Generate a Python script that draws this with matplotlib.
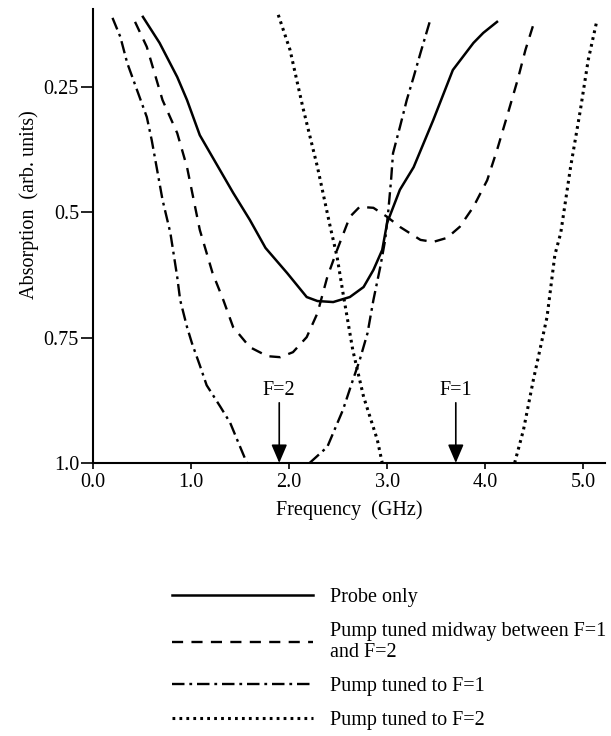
import numpy as np
import matplotlib
matplotlib.use('Agg')
import matplotlib.pyplot as plt

plt.rcParams['font.family'] = ['Liberation Serif', 'DejaVu Serif']
plt.rcParams['lines.scale_dashes'] = False

# Data (frequency in GHz, absorption in arb. units, axis inverted)
probe_x = [0.51, 0.68, 0.86, 0.96, 1.09, 1.22, 1.43, 1.60, 1.76, 1.98, 2.18, 2.29, 2.45, 2.62, 2.76,
           2.86, 2.95, 3.00, 3.13, 3.27, 3.47, 3.67, 3.88, 3.98, 4.12]
probe_y = [0.110, 0.162, 0.230, 0.276, 0.346, 0.390, 0.461, 0.515, 0.571, 0.621, 0.669, 0.677, 0.679,
           0.669, 0.649, 0.615, 0.575, 0.521, 0.455, 0.410, 0.316, 0.216, 0.162, 0.142, 0.120]

mid_x = [0.43, 0.55, 0.71, 0.86, 0.96, 1.09, 1.22, 1.33, 1.43, 1.60, 1.78, 1.91, 2.04, 2.18, 2.29, 2.39,
         2.49, 2.62, 2.72, 2.86, 3.00, 3.13, 3.34, 3.47, 3.61, 3.74, 3.88, 4.02, 4.12, 4.22, 4.33, 4.41, 4.49]
mid_y = [0.120, 0.170, 0.276, 0.342, 0.410, 0.535, 0.621, 0.675, 0.729, 0.769, 0.787, 0.789, 0.779, 0.749,
         0.701, 0.629, 0.575, 0.509, 0.489, 0.491, 0.509, 0.529, 0.555, 0.559, 0.551, 0.529, 0.489, 0.436,
         0.376, 0.310, 0.236, 0.176, 0.126]

f1_x = [0.20, 0.28, 0.35, 0.45, 0.55, 0.60, 0.65, 0.71, 0.79, 0.86, 0.89, 0.96, 1.01, 1.09, 1.16, 1.30,
        1.40, 1.48, 1.57, np.nan,
        2.21, 2.39, 2.55, 2.65, 2.72, 2.80, 2.86, 2.93, 2.98, 3.01, 3.04, 3.06, 3.13, 3.20, 3.27, 3.34, 3.44]
f1_y = [0.112, 0.150, 0.202, 0.256, 0.310, 0.356, 0.410, 0.475, 0.541, 0.629, 0.675, 0.729, 0.761, 0.805,
        0.845, 0.888, 0.920, 0.958, 1.0, np.nan,
        1.0, 0.968, 0.894, 0.835, 0.795, 0.741, 0.675, 0.609, 0.555, 0.501, 0.436, 0.382, 0.330, 0.276,
        0.230, 0.182, 0.116]

f2_x = [1.89, 2.01, 2.14, 2.29, 2.42, 2.49, 2.55, 2.65, 2.76, 2.90, 2.95, np.nan,
        4.30, 4.39, 4.49, 4.63, 4.71, 4.77, 4.87, 4.97, 5.05, 5.14]
f2_y = [0.106, 0.176, 0.290, 0.410, 0.529, 0.589, 0.661, 0.775, 0.868, 0.954, 1.0, np.nan,
        1.0, 0.934, 0.835, 0.709, 0.585, 0.541, 0.410, 0.296, 0.196, 0.116]

labels = ['Probe only', 'Pump tuned midway between F=1\nand F=2', 'Pump tuned to F=1', 'Pump tuned to F=2']
x_ticks = [0.0, 1.0, 2.0, 3.0, 4.0, 5.0]
y_ticks = [0.25, 0.5, 0.75, 1.0]
y_ticklabels = ['0.25', '0.5', '0.75', '1.0']
markers = {'F=2': 1.90, 'F=1': 3.70}

fs = 14.5

fig = plt.figure(figsize=(6.11, 7.36), dpi=100)
ax = fig.add_axes([0.152, 0.371, 0.838, 0.617])

ax.plot(probe_x, probe_y, color='black', lw=1.8, label=labels[0])
ax.plot(mid_x, mid_y, color='black', lw=1.7, dashes=(8, 6), label=labels[1])
ax.plot(f1_x, f1_y, color='black', lw=1.7, dashes=(9, 3.5, 2, 3.5), label=labels[2])
ax.plot(f2_x, f2_y, color='black', lw=2.2, dashes=(2, 3), label=labels[3])

# arrows marking the hyperfine levels
for name, xpos in markers.items():
    ax.annotate('', xy=(xpos, 1.0), xytext=(xpos, 0.88),
                arrowprops=dict(arrowstyle='-|>,head_length=0.7,head_width=0.3', color='black',
                                lw=1.2, mutation_scale=16, shrinkA=0, shrinkB=0))
    ax.text(xpos, 0.855, name, ha='center', va='center', fontsize=fs)

ax.set_xlim(0.0, 5.22)
ax.set_ylim(1.0, 0.094)
ax.set_xticks(x_ticks)
ax.set_xticklabels([f'{t:.1f}' for t in x_ticks])
ax.set_yticks(y_ticks)
ax.set_yticklabels(y_ticklabels)
ax.tick_params(axis='y', direction='out', length=9, width=1.2, labelsize=fs, pad=1)
ax.tick_params(axis='x', direction='out', length=4, width=1.2, labelsize=fs, pad=3)
ax.spines['top'].set_visible(False)
ax.spines['right'].set_visible(False)
ax.spines['left'].set_linewidth(1.5)
ax.spines['bottom'].set_linewidth(1.5)
ax.set_xlabel('Frequency  (GHz)', fontsize=fs, labelpad=6)
ax.set_ylabel('Absorption  (arb. units)', fontsize=fs, labelpad=10)
ax.yaxis.set_label_coords(-0.105, 0.568)

fig.legend(loc='upper left', bbox_to_anchor=(0.2815, 0.201), frameon=False, fontsize=fs,
           handlelength=7.0, handletextpad=0.85, labelspacing=0.72, borderpad=0, borderaxespad=0)

plt.savefig('out.png', dpi=100)
